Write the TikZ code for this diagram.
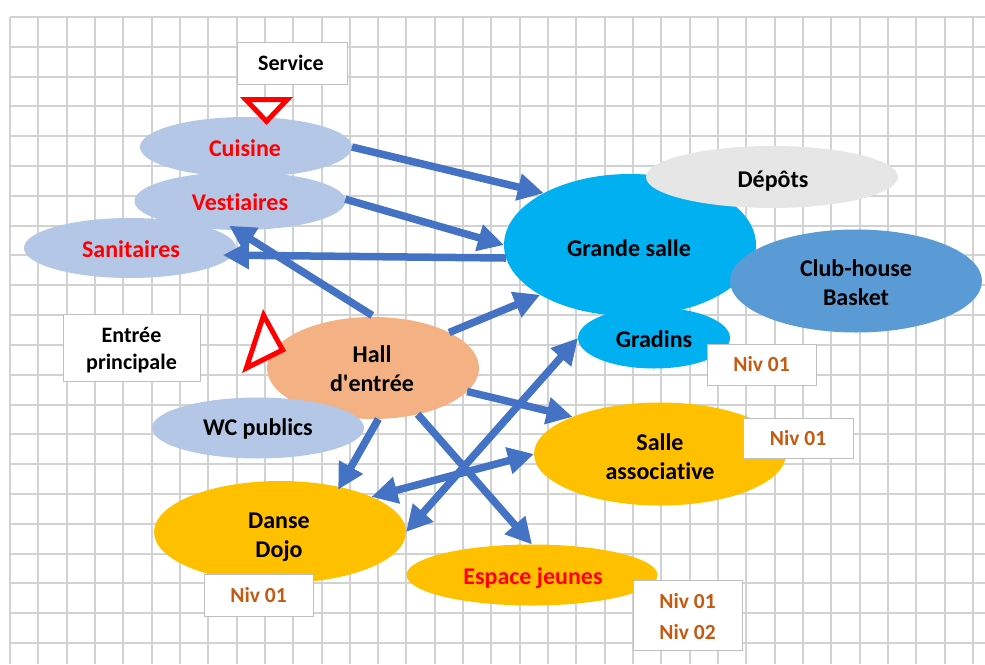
\documentclass[tikz,border=0pt]{standalone}
\usepackage{fontspec}
\newfontfamily\carl{Carlito}[Ligatures=NoCommon]
\usetikzlibrary{shapes.geometric,arrows.meta}
\definecolor{gridc}{HTML}{D2D2D2}
\definecolor{paleblue}{HTML}{B4C7E7}
\definecolor{cyanb}{HTML}{00B0F0}
\definecolor{midblue}{HTML}{5B9BD5}
\definecolor{greyd}{HTML}{E6E6E6}
\definecolor{peach}{HTML}{F4B183}
\definecolor{amber}{HTML}{FFC000}
\definecolor{arrowb}{HTML}{4472C4}
\definecolor{nivc}{HTML}{C55A11}
\definecolor{boxl}{HTML}{BFBFBF}
\tikzset{
  gridline/.style={gridc,line width=2pt},
  blob/.style={ellipse,inner sep=0pt,outer sep=0pt,align=center,font=\carl\bfseries\fontsize{24}{29}\selectfont,text=black},
  redtext/.style={text=red},
  label box/.style={draw=boxl,line width=0.9pt,fill=white,inner sep=0pt,outer sep=0pt,align=center,font=\carl\bfseries\fontsize{22}{27}\selectfont},
  niv/.style={label box,text=nivc,font=\carl\bfseries\fontsize{21.5}{31}\selectfont},
  flow/.style={arrowb,line width=7.5pt,-{Triangle[length=26pt,width=26pt]}},
  bothflow/.style={arrowb,line width=7.5pt,{Triangle[length=26pt,width=26pt]}-{Triangle[length=26pt,width=26pt]}},
  yield/.style={draw=red,line width=5pt,fill=white,line join=miter,miter limit=10}
}
\begin{document}
\begin{tikzpicture}[x=1pt,y=-1pt]
\useasboundingbox (0,0) rectangle (985,664);
% squared paper
\foreach \i in {0,...,21} \draw[gridline] (10,17+29.81*\i) -- (985,17+29.81*\i);
\foreach \i in {0,...,34} \draw[gridline] (10+28.32*\i,17) -- (10+28.32*\i,664);
% ellipses
\node[blob,fill=paleblue,minimum width=212pt,minimum height=60pt] (cuisine) at (246,147) {};
\node[blob,fill=paleblue,minimum width=211pt,minimum height=58pt] (vest) at (240,201) {};
\node[blob,fill=paleblue,minimum width=212pt,minimum height=60pt] (sani) at (130,248) {};
\node[blob,fill=cyanb,minimum width=252pt,minimum height=142pt] (grande) at (630,245) {};
\node[blob,fill=cyanb,minimum width=152pt,minimum height=61pt] (gradins) at (654,338) {};
\node[blob,fill=greyd,minimum width=252pt,minimum height=62pt] (depots) at (772,177) {};
\node[blob,fill=midblue,minimum width=252pt,minimum height=103pt] (club) at (856,281) {};
\node[blob,fill=peach,minimum width=212pt,minimum height=102pt] (hall) at (373,368) {};
\node[blob,fill=paleblue,minimum width=212pt,minimum height=61pt] (wc) at (258,428) {};
\node[blob,fill=amber,minimum width=252pt,minimum height=103pt] (salle) at (660,454) {};
\node[blob,fill=amber,minimum width=252pt,minimum height=102pt] (danse) at (280,532) {};
\node[blob,fill=amber,minimum width=251pt,minimum height=61pt] (jeunes) at (532,575) {};
% ellipse texts
\node[blob,redtext] (tcuisine) at (245,148) {Cuisine};
\node[blob,redtext] (tvest) at (240,202) {Vestiaires};
\node[blob,redtext] (tsani) at (131,249) {Sanitaires};
\node[blob] (tgrande) at (629,248) {Grande salle};
\node[blob] (tgradins) at (654,339) {Gradins};
\node[blob] (tdepots) at (773,181) {Dépôts};
\node[blob] (tclub) at (856,283) {Club-house\\Basket};
\node[blob] (thall) at (372,369) {Hall\\d'entrée};
\node[blob] (twc) at (258,429) {WC publics};
\node[blob] (tsalle) at (660,457) {Salle\\associative};
\node[blob] (tdanse) at (279,537) {Danse\\Dojo};
\node[blob,redtext] (tjeunes) at (533,578) {Espace jeunes};
% connectors
\draw[flow] (cuisine.0) -- (grande.149.5);
\draw[flow] (vest.1.6) -- (grande.180);
\draw[flow,shorten >=-10pt] (grande.186) -- (sani.-4.4);
\draw[flow,shorten >=-8pt,shorten <=3pt] (hall.88) -- (vest.-98);
\draw[flow] (hall.25) -- (grande.209.5);
\draw[flow] (hall.-14.5) -- (salle.157.6);
\draw[flow,shorten >=-3pt] (hall.-84.5) -- (danse.37.3);
\draw[flow] (hall.-46.3) -- (jeunes.90);
\draw[bothflow] (gradins.180) -- (danse.0);
\draw[bothflow] (salle.180) -- (danse.21.3);
% labels
\node[label box,minimum width=110pt,minimum height=42pt] (service) at (292,63) {\hspace{-2pt}Service};
\node[label box,minimum width=137pt,minimum height=67pt] (entree) at (131.5,347.5) {\rule{0pt}{21pt}Entrée\\principale};
\node[niv,minimum width=109pt,minimum height=41pt] (niva) at (761.5,364.5) {Niv 01};
\node[niv,minimum width=110pt,minimum height=40pt] (nivb) at (798,438) {Niv 01};
\node[niv,minimum width=109pt,minimum height=42pt] (nivc) at (258.5,595) {Niv 01};
\node[niv,minimum width=109pt,minimum height=70pt] (nivd) at (687.5,615) {\rule{0pt}{18pt}Niv 01\\Niv 02};
% red entrance markers
\draw[yield] (245.7,99.5) -- (287.3,99.5) -- (266.5,121.3) -- cycle;
\draw[yield] (263.6,315.3) -- (282.6,349.9) -- (246.3,368.1) -- cycle;
\end{tikzpicture}
\end{document}
